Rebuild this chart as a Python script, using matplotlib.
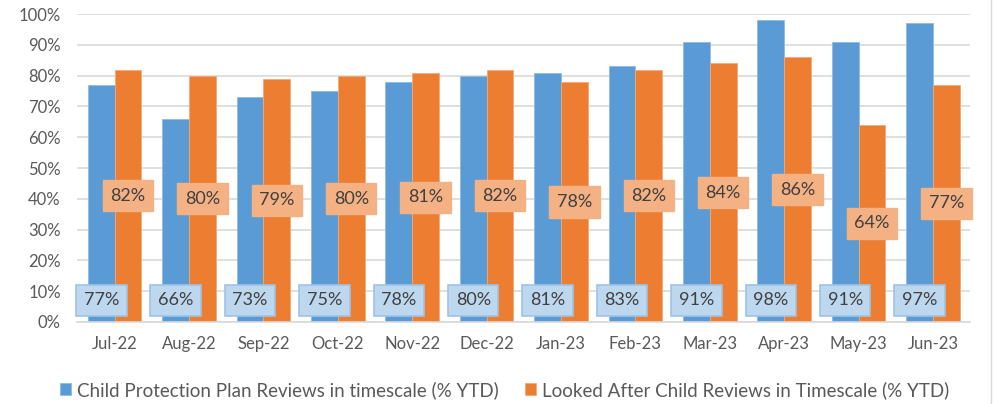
import numpy as np
import matplotlib.pyplot as plt

months = ['Jul-22', 'Aug-22', 'Sep-22', 'Oct-22', 'Nov-22', 'Dec-22',
          'Jan-23', 'Feb-23', 'Mar-23', 'Apr-23', 'May-23', 'Jun-23']
cpp_reviews = [77, 66, 73, 75, 78, 80, 81, 83, 91, 98, 91, 97]
lac_reviews = [82, 80, 79, 80, 81, 82, 78, 82, 84, 86, 64, 77]
cpp_name = 'Child Protection Plan Reviews in timescale (% YTD)'
lac_name = 'Looked After Child Reviews in Timescale (% YTD)'

plt.rcParams['font.family'] = ['Lato', 'DejaVu Sans']
blue = '#5B9BD5'
orange = '#ED7D31'
grey = '#595959'

fig = plt.figure(figsize=(9.93, 4.04), dpi=100)
ax = fig.add_axes([0.078, 0.203, 0.899, 0.762])

x = np.arange(len(months))
w = 0.36
ax.bar(x - w / 2, cpp_reviews, w, color=blue, edgecolor='#8fbbe3',
       linewidth=0.6, label=cpp_name, zorder=2)
ax.bar(x + w / 2, lac_reviews, w, color=orange, edgecolor='#f3a97a',
       linewidth=0.6, label=lac_name, zorder=2)

# value labels: blue at the base of the bar, orange in the middle
for i in range(len(months)):
    ax.text(x[i] - w / 2, 7.0, f'{cpp_reviews[i]}%', ha='center',
            va='center', fontsize=13, color='#404040', zorder=4,
            bbox=dict(boxstyle='square,pad=0.42', fc='#BDD7EE',
                      ec='#9DC3E6', lw=1.2))
    ax.text(x[i] + w / 2, lac_reviews[i] / 2, f'{lac_reviews[i]}%',
            ha='center', va='center', fontsize=13, color='#404040',
            zorder=4, bbox=dict(boxstyle='square,pad=0.42', fc='#F4B183',
                                ec='#F4B183', lw=1))

ax.set_xlim(-0.5, len(months) - 0.5)
ax.set_ylim(0, 100)
ax.set_yticks(np.arange(0, 101, 10))
ax.set_yticklabels([f'{v}%' for v in range(0, 101, 10)])
ax.set_xticks(x)
ax.set_xticklabels(months)
ax.tick_params(length=0, colors=grey, labelsize=12)
ax.tick_params(axis='x', pad=10)
ax.tick_params(axis='y', pad=12)
ax.yaxis.grid(True, color='#d9d9d9', linewidth=1.2, zorder=0)
ax.set_axisbelow(True)
for s in ['top', 'right', 'left']:
    ax.spines[s].set_visible(False)
ax.spines['bottom'].set_color('#d9d9d9')
ax.spines['bottom'].set_linewidth(1.2)

fig.legend(loc='center', bbox_to_anchor=(0.508, 0.035), ncol=2, frameon=False,
           fontsize=13.5, labelcolor=grey, handlelength=0.6,
           handleheight=0.6, handletextpad=0.3, columnspacing=1.4)

# chart frame edge on the right
fig.add_artist(plt.Line2D([0.998, 0.998], [0, 1], color='#d9d9d9', lw=1))

fig.savefig('out.png', dpi=100)
